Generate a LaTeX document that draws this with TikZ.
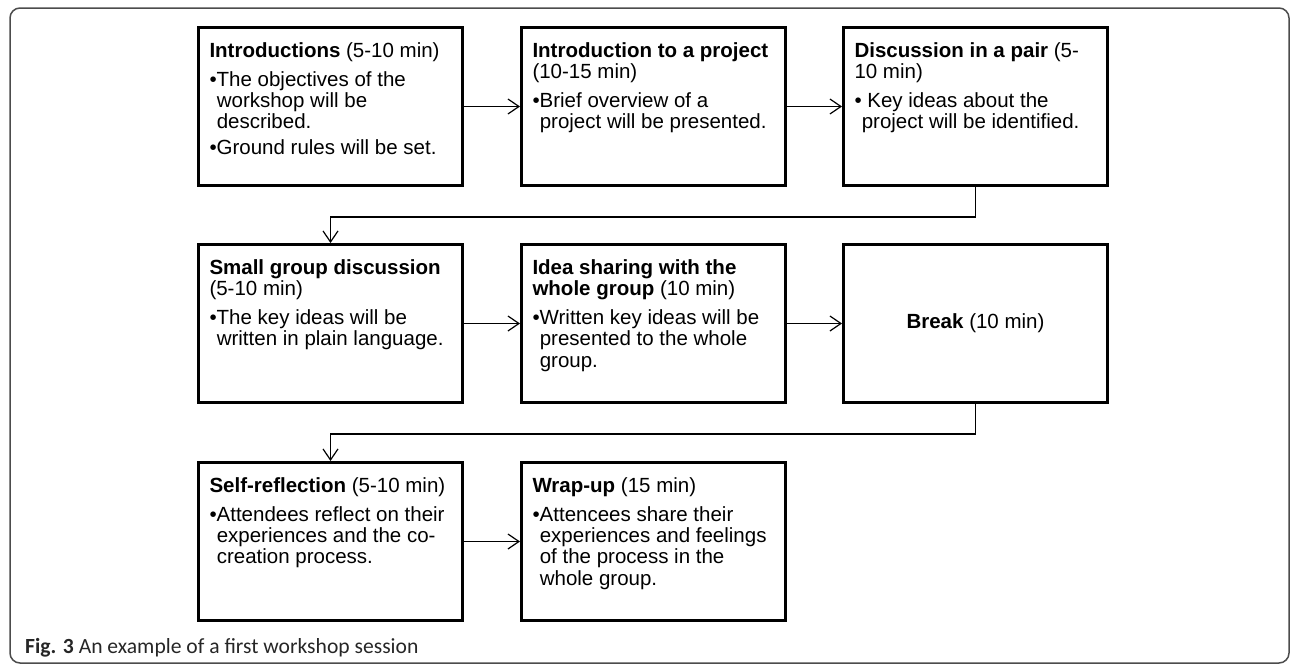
\documentclass[tikz,border=0pt]{standalone}
\usepackage{fontspec}
\setmainfont{Liberation Sans}
\newfontfamily\capfont{Carlito}
\usetikzlibrary{arrows.meta}

\newcommand{\bpt}[1]{\par\hangindent=7.3pt\hangafter=1\noindent\textbullet#1\par}
\newcommand{\stagetext}[2]{\parbox[c][128pt][t]{242pt}{\raggedright\fontsize{20.5}{21.2}\selectfont
  #1\par\vspace{8pt}#2}}

\begin{document}
\begin{tikzpicture}[x=1pt,y=-1pt,
  stage/.style={draw,line width=3pt,anchor=north west,minimum width=264pt,minimum height=158pt,inner sep=0pt},
  flow/.style={line width=1.2pt,-{Straight Barb[length=11pt,width=15pt,line width=1.2pt]}}]
\useasboundingbox (0,0) rectangle (1290,664);
\begin{scope}
\clip (0,0) rectangle (1290,664);
\draw[line width=1.5pt,black!70,rounded corners=10pt] (10,8) rectangle (1289,663);
\end{scope}
\node[stage] (intro) at (197,26) {\stagetext{\textbf{Introductions} (5-10 min)}{%
  \bpt{The objectives of the\newline workshop will be\newline described.}\vspace{4pt}%
  \bpt{Ground rules will be set.}}};
\node[stage] (project) at (520,26) {\stagetext{\textbf{Introduction to a project}\\ (10-15 min)}{%
  \bpt{Brief overview of a\newline project will be presented.}}};
\node[stage] (pair) at (842,26) {\stagetext{\textbf{Discussion in a pair} (5-\\10 min)}{%
  \bpt{ Key ideas about the\newline project will be identified.}}};
\node[stage] (small) at (197,243) {\stagetext{\textbf{Small group discussion}\\ (5-10 min)}{%
  \bpt{The key ideas will be\newline written in plain language.}}};
\node[stage] (sharing) at (520,243) {\stagetext{\textbf{Idea sharing with the}\\ \textbf{whole group} (10 min)}{%
  \bpt{Written key ideas will be\newline presented to the whole\newline group.}}};
\node[stage,font=\fontsize{20.5}{21.2}\selectfont] (break) at (842,243) {\textbf{Break} (10 min)};
\node[stage] (reflect) at (197,461) {\stagetext{\textbf{Self-reflection} (5-10 min)}{%
  \bpt{Attendees reflect on their\newline experiences and the co-\newline creation process.}}};
\node[stage] (wrap) at (520,461) {\stagetext{\textbf{Wrap-up} (15 min)}{%
  \bpt{Attencees share their\newline experiences and feelings\newline of the process in the\newline whole group.}}};
\node[anchor=base west,inner sep=0pt,font=\capfont\fontsize{21.6}{24}\selectfont,text=black!85] (caption) at (25,653)
  {\textbf{Fig. 3} An example of a first workshop session};
\draw[flow] (intro) -- (project);
\draw[flow] (project) -- (pair);
\draw[flow] (pair.south) -- ++(0,30) -| (small.north);
\draw[flow] (small) -- (sharing);
\draw[flow] (sharing) -- (break);
\draw[flow] (break.south) -- ++(0,30) -| (reflect.north);
\draw[flow] (reflect) -- (wrap);
\end{tikzpicture}
\end{document}
